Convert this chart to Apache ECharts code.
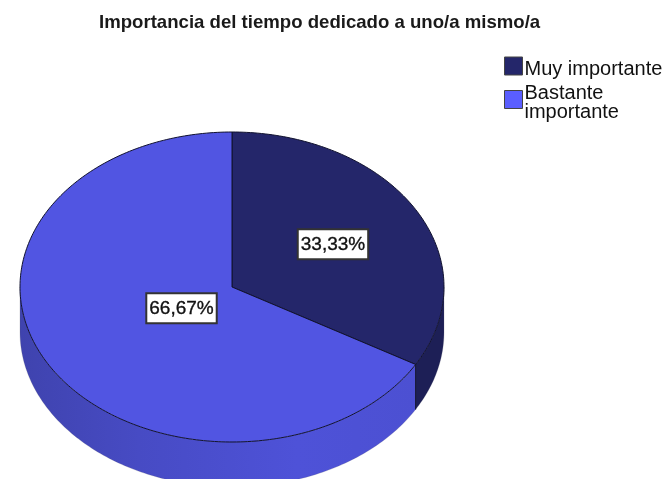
<!DOCTYPE html>
<html>
<head>
<meta charset="utf-8">
<style>html,body{margin:0;padding:0;background:#fff}#c{width:666px;height:479px}</style>
<script src="https://cdn.jsdelivr.net/npm/echarts@6/dist/echarts.min.js"></script>
</head>
<body>
<div id="c"></div>
<script>
const titleText = 'Importancia del tiempo dedicado a uno/a mismo/a';
const categories = ['Muy importante', 'Bastante importante'];
const legendLines = [['Muy importante'], ['Bastante', 'importante']];
const percentages = [33.33, 66.67];

const topColors = ['#24266A', '#5155E2'];
const legendColors = ['#24266A', '#5A5EFF'];
const wallStops = [
  [{offset: 0, color: '#1D1F56'}, {offset: 1, color: '#1D1F56'}],
  [{offset: 0, color: '#3F43AE'}, {offset: 0.3, color: '#474BC4'}, {offset: 0.7, color: '#4E52D8'}, {offset: 1, color: '#4C50D2'}]
];
const labelRadius = [0.55, 0.275];

const CX = 232, CY = 287, RX = 212, RY = 155, DEPTH = 45;
const total = percentages.reduce((a, b) => a + b, 0);
const pt = (deg, dy) => {
  const r = deg * Math.PI / 180;
  return [CX + RX * Math.sin(r), CY - RY * Math.cos(r) + (dy || 0)];
};
const arc = (a, b, dy) => {
  const out = [];
  const n = Math.max(2, Math.ceil(Math.abs(b - a)));
  for (let i = 0; i <= n; i++) out.push(pt(a + (b - a) * i / n, dy));
  return out;
};

function sliceRenderer(idx) {
  const before = percentages.slice(0, idx).reduce((a, b) => a + b, 0);
  const start = before / total * 360;
  const end = (before + percentages[idx]) / total * 360;
  return function () {
    const children = [];
    const wa = Math.max(start, 90), wb = Math.min(end, 270);
    if (wb > wa) {
      const upper = arc(wa, wb, 0);
      const lower = arc(wb, wa, DEPTH);
      children.push({
        type: 'polygon', z2: 1,
        shape: {points: upper.concat(lower)},
        style: {
          fill: {type: 'linear', global: true, x: CX - RX, y: 0, x2: pt(120)[0], y2: 0, colorStops: wallStops[idx]},
          stroke: 'rgba(90,90,110,0.35)', lineWidth: 0.6
        }
      });
    }
    children.push({
      type: 'polygon', z2: 2,
      shape: {points: [[CX, CY]].concat(arc(start, end, 0))},
      style: {fill: topColors[idx], stroke: '#11122F', lineWidth: 1, lineJoin: 'round'}
    });
    if (idx === 0) {
      const c = pt(end);
      children.push({
        type: 'line', z2: 3,
        shape: {x1: c[0], y1: c[1], x2: c[0], y2: c[1] + DEPTH},
        style: {stroke: '#11122F', lineWidth: 1}
      });
    }
    const mid = (start + end) / 2 * Math.PI / 180;
    const lx = CX + RX * labelRadius[idx] * Math.sin(mid);
    const ly = CY - RY * labelRadius[idx] * Math.cos(mid);
    children.push({
      type: 'text', z2: 10, x: lx, y: ly,
      style: {
        text: percentages[idx].toFixed(2).replace('.', ',') + '%',
        fontFamily: 'Liberation Sans', fontSize: 19, fill: '#111',
        stroke: '#111', lineWidth: 0.35,
        align: 'center', verticalAlign: 'middle',
        backgroundColor: '#fff', borderColor: '#333', borderWidth: 2,
        padding: [5, 2, 4, 2]
      }
    });
    return {type: 'group', children};
  };
}

const chart = echarts.init(document.getElementById('c'), null, {renderer: 'canvas'});
chart.setOption({
  animation: false,
  backgroundColor: '#fff',
  title: {
    text: titleText, left: 94, top: 13, padding: [0, 5],
    textStyle: {fontFamily: 'Liberation Sans', fontSize: 18.6, fontWeight: 'bold', color: '#1a1a1a'}
  },
  legend: {
    orient: 'vertical', left: 504, top: 53.5, padding: 0,
    itemWidth: 18, itemHeight: 18, itemGap: -1.5, selectedMode: false,
    icon: 'rect',
    itemStyle: {borderColor: '#444', borderWidth: 1},
    textStyle: {
      fontFamily: 'Liberation Sans', fontSize: 20, color: '#111', padding: [0, 0, 0, -3],
      rich: {
        s: {height: 6, lineHeight: 6, fontSize: 1},
        a: {fontFamily: 'Liberation Sans', fontSize: 20, color: '#111', height: 19, lineHeight: 19}
      }
    },
    formatter: n => '{s| }\n' + legendLines[categories.indexOf(n)].map(l => '{a|' + l + '}').join('\n'),
    data: categories.map((n, i) => ({name: n, itemStyle: {color: legendColors[i]}}))
  },
  series: categories.map((name, i) => ({
    type: 'custom', name, coordinateSystem: 'none',
    silent: true, clip: false,
    data: [[percentages[i]]],
    itemStyle: {color: topColors[i]},
    renderItem: sliceRenderer(i)
  }))
});
</script>
</body>
</html>
